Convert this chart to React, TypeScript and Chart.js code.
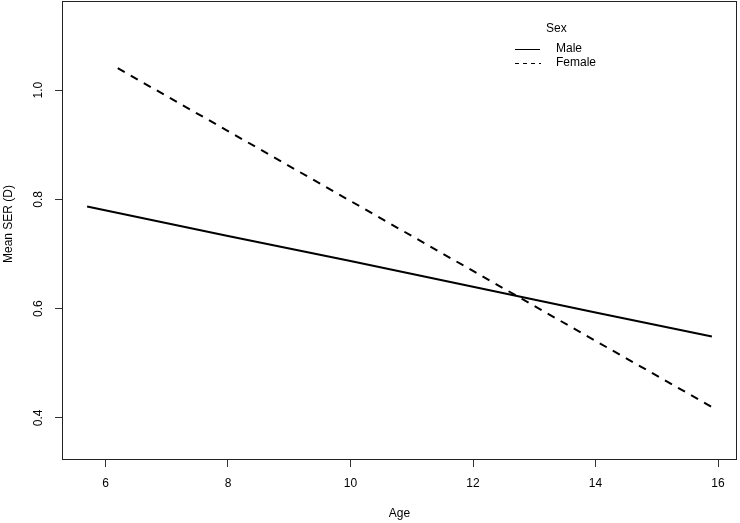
import React, { useEffect, useRef } from "react";
import { Chart, registerables } from "chart.js";

Chart.register(...registerables);

const maleAges = [5.7, 8, 10, 12, 14, 15.9];
const maleValues = [0.787, 0.733, 0.687, 0.640, 0.593, 0.549];
const femaleAges = [6.2, 8, 10, 12, 14, 15.9];
const femaleValues = [1.04, 0.925, 0.797, 0.669, 0.541, 0.42];
const xTicks = [6, 8, 10, 12, 14, 16];
const yTicks = [0.4, 0.6, 0.8, 1.0];
const seriesNames = ["Male", "Female"];
const legendTitle = "Sex";
const xTitle = "Age";
const yTitle = "Mean SER (D)";

const FONT = "12px 'Liberation Sans', Arial, sans-serif";

const overlay = {
  id: "rOverlay",
  afterDraw(chart: any) {
    const ctx = chart.ctx;
    const a = chart.chartArea;
    const xs = chart.scales.x;
    const ys = chart.scales.y;
    ctx.save();
    // box
    ctx.strokeStyle = "#222";
    ctx.lineWidth = 1;
    ctx.strokeRect(Math.round(a.left) + 0.5, Math.round(a.top) + 0.5, Math.round(a.right - a.left) - 1, Math.round(a.bottom - a.top) - 1);
    ctx.fillStyle = "#000";
    ctx.font = FONT;
    // x tick labels
    ctx.textAlign = "center";
    ctx.textBaseline = "middle";
    xTicks.forEach((t) => {
      ctx.fillText(String(t), xs.getPixelForValue(t), 484);
    });
    // y tick labels rotated
    yTicks.forEach((t) => {
      ctx.save();
      ctx.translate(39, ys.getPixelForValue(t));
      ctx.rotate(-Math.PI / 2);
      ctx.fillText(t.toFixed(1), 0, 0);
      ctx.restore();
    });
    // axis titles
    ctx.fillText(xTitle, (a.left + a.right) / 2, 514);
    ctx.save();
    ctx.translate(9, 224);
    ctx.rotate(-Math.PI / 2);
    ctx.fillText(yTitle, 0, 0);
    ctx.restore();
    // legend
    ctx.textAlign = "left";
    ctx.fillText(legendTitle, 546, 29);
    ctx.strokeStyle = "#000";
    ctx.lineWidth = 1;
    ctx.beginPath();
    ctx.moveTo(515, 49.5);
    ctx.lineTo(540, 49.5);
    ctx.stroke();
    ctx.setLineDash([4, 4]);
    ctx.beginPath();
    ctx.moveTo(515, 63.5);
    ctx.lineTo(541, 63.5);
    ctx.stroke();
    ctx.setLineDash([]);
    ctx.fillText(seriesNames[0], 556, 49);
    ctx.fillText(seriesNames[1], 556, 63);
    ctx.restore();
  },
};

export default function App() {
  const ref = useRef<HTMLCanvasElement | null>(null);
  useEffect(() => {
    document.body.style.margin = "0";
    const canvas = ref.current;
    if (!canvas) return;
    const chart = new Chart(canvas, {
      type: "scatter",
      data: {
        datasets: [
          {
            label: seriesNames[0],
            data: maleAges.map((x, i) => ({ x, y: maleValues[i] })),
            showLine: true,
            borderColor: "#000",
            borderWidth: 2,
            pointRadius: 0,
            fill: false,
          },
          {
            label: seriesNames[1],
            data: femaleAges.map((x, i) => ({ x, y: femaleValues[i] })),
            showLine: true,
            borderColor: "#000",
            borderWidth: 2,
            borderDash: [8, 7],
            pointRadius: 0,
            fill: false,
          },
        ],
      },
      options: {
        animation: false,
        responsive: false,
        layout: { padding: { left: 0, right: 3, top: 1, bottom: 0 } },
        plugins: { legend: { display: false }, tooltip: { enabled: false } },
        scales: {
          x: {
            type: "linear",
            min: 5.29,
            max: 16.31,
            afterBuildTicks: (s: any) => {
              s.ticks = xTicks.map((v) => ({ value: v }));
            },
            afterFit: (s: any) => {
              s.height = 63;
            },
            ticks: { display: false },
            grid: { drawOnChartArea: false, drawTicks: true, tickLength: 7, color: "#333", lineWidth: 1 },
            border: { display: false },
          },
          y: {
            type: "linear",
            min: 0.323,
            max: 1.163,
            afterBuildTicks: (s: any) => {
              s.ticks = yTicks.map((v) => ({ value: v }));
            },
            afterFit: (s: any) => {
              s.width = 62;
            },
            ticks: { display: false },
            grid: { drawOnChartArea: false, drawTicks: true, tickLength: 7, color: "#333", lineWidth: 1 },
            border: { display: false },
          },
        },
      },
      plugins: [overlay],
    });
    return () => chart.destroy();
  }, []);
  return <canvas ref={ref} width={740} height={523} style={{ display: "block" }} />;
}
